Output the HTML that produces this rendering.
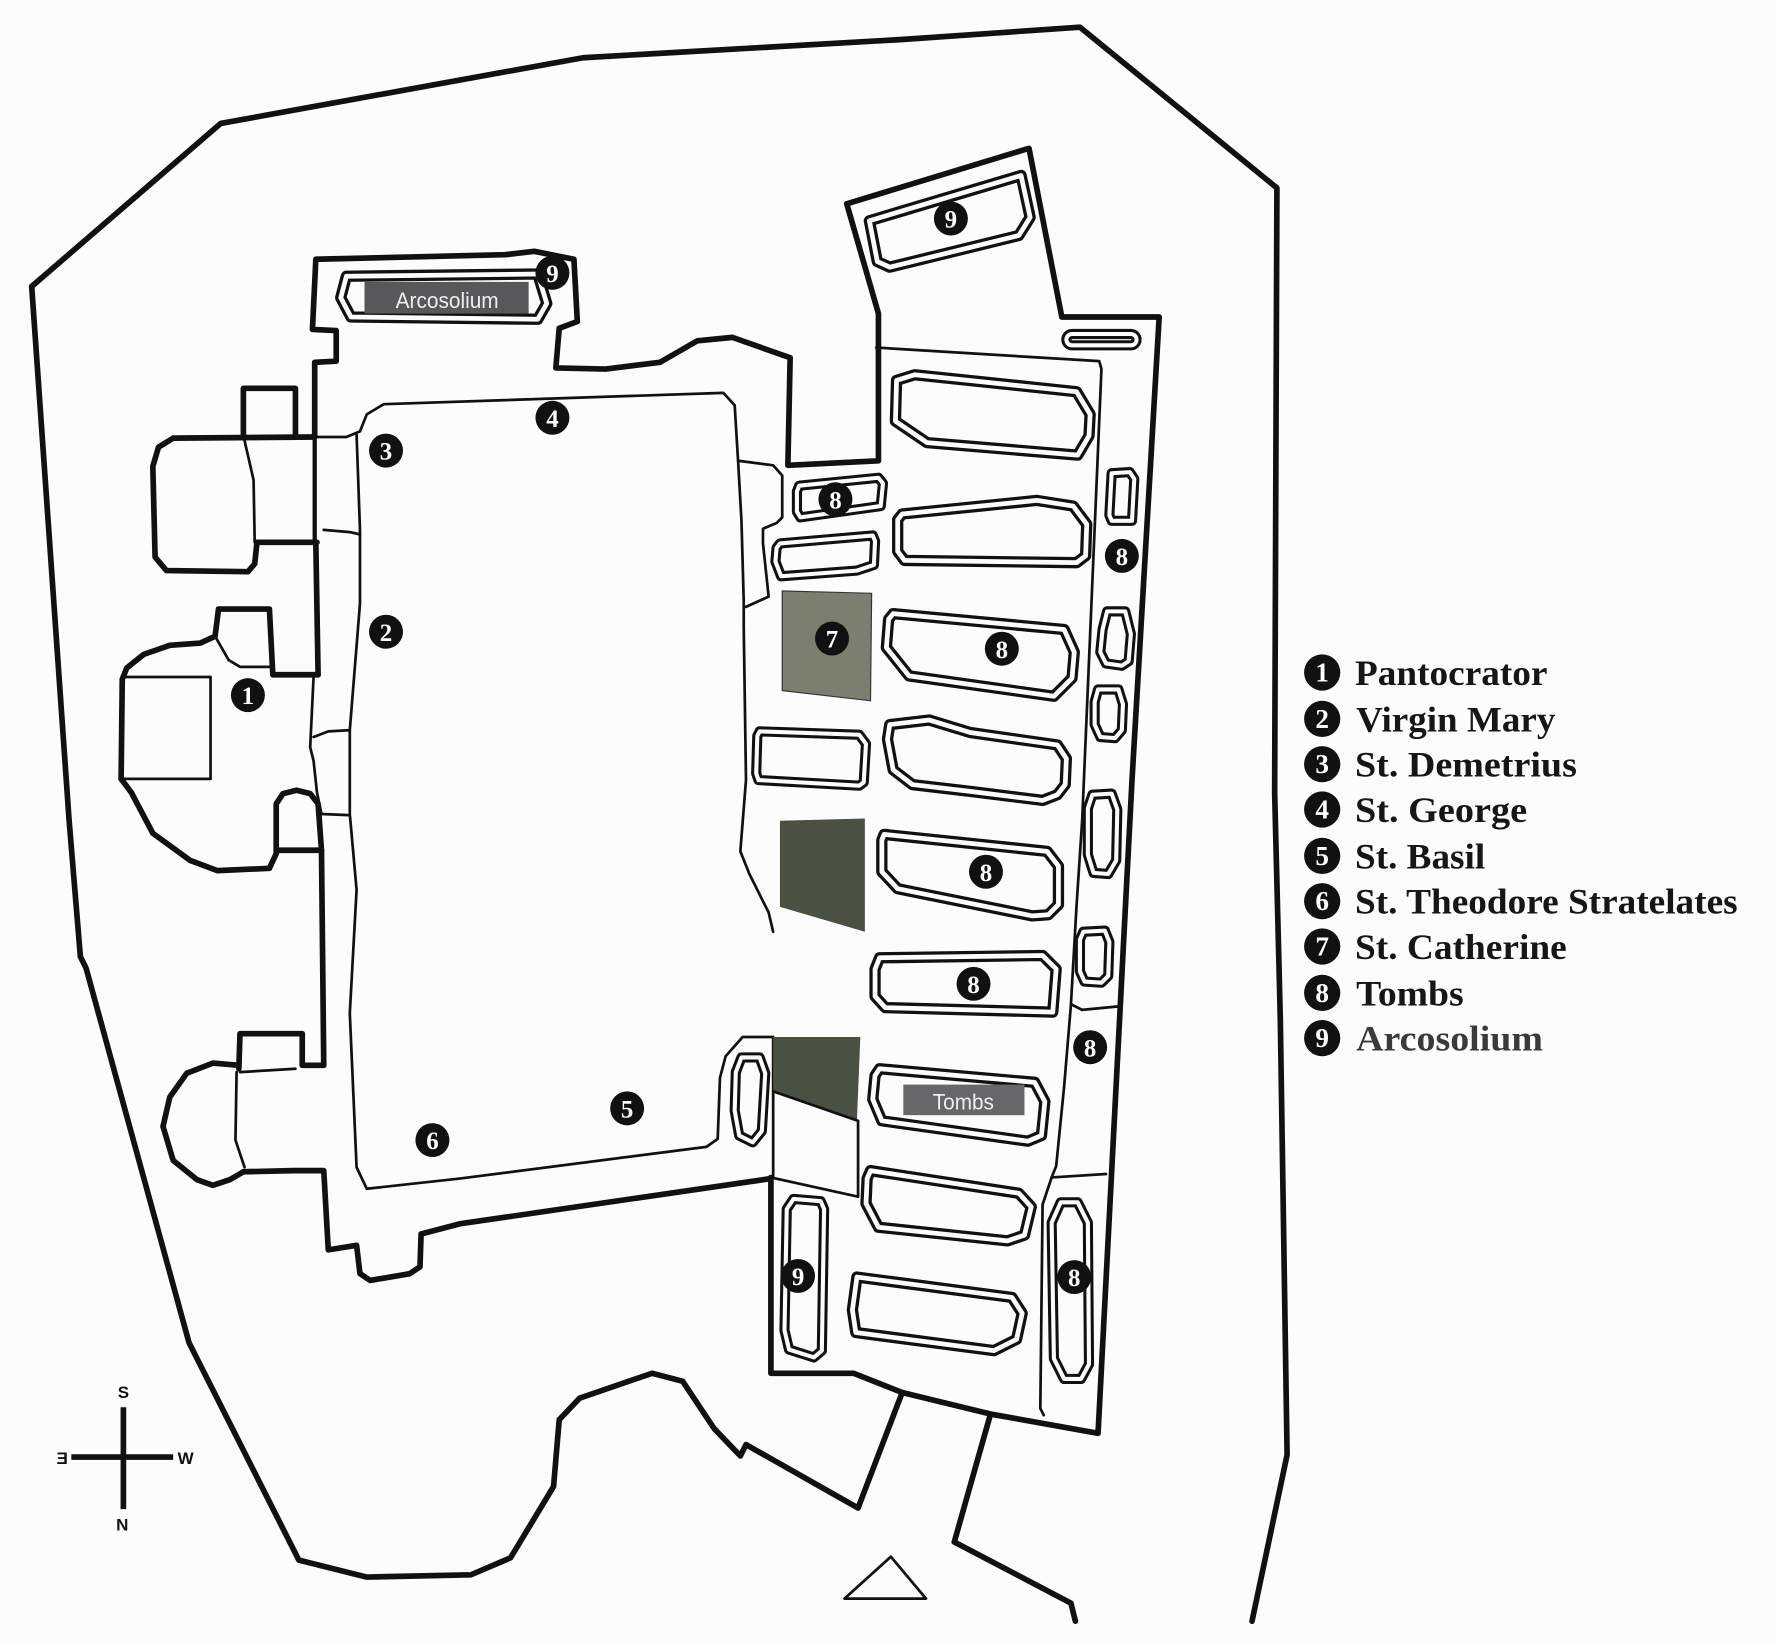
<!DOCTYPE html>
<html><head><meta charset="utf-8"><style>
html,body{margin:0;padding:0;background:#fcfcfc;}
svg{display:block;}
.k{fill:none;stroke:#111;stroke-width:5;stroke-linejoin:round;stroke-linecap:round;}
.m{fill:none;stroke:#111;stroke-width:3.8;stroke-linejoin:round;stroke-linecap:round;}
.t{fill:none;stroke:#111;stroke-width:2.4;stroke-linejoin:round;stroke-linecap:round;}
.tb{fill:#fcfcfc;stroke:#111;stroke-width:10;stroke-linejoin:round;}
.tw{fill:none;stroke:#fcfcfc;stroke-width:4.2;stroke-linejoin:round;}
.sb{fill:#fcfcfc;stroke:#111;stroke-width:9;stroke-linejoin:round;}
.sw{fill:none;stroke:#fcfcfc;stroke-width:3.6;stroke-linejoin:round;}
.n{font-family:"Liberation Serif",serif;font-weight:bold;font-size:22px;fill:#fff;text-anchor:middle;}
.lg{font-family:"Liberation Serif",serif;font-weight:bold;font-size:32px;fill:#161616;}
.ln{font-family:"Liberation Serif",serif;font-weight:bold;font-size:24px;fill:#fff;text-anchor:middle;}
.cp{font-family:"Liberation Sans",sans-serif;font-weight:bold;font-size:15px;fill:#111;text-anchor:middle;}
.lb{font-family:"Liberation Sans",sans-serif;font-size:20px;fill:#eee;text-anchor:middle;}
</style></head><body>
<svg width="1775" height="1645" viewBox="0 0 1568 1453" preserveAspectRatio="none" xmlns="http://www.w3.org/2000/svg">
<rect x="0" y="0" width="1568" height="1453" fill="#fcfcfc"/>

<!-- outer boundary -->
<path class="k" d="M28,253 L195,109 L515,51 L795,35 L954,24 L1128,166 L1126,700 L1131,900 L1137,1285 L1106,1432"/>
<path class="k" d="M28,253 L61,724 L71,845 L76,855 L167,1186 L264,1378 L324,1393 L416,1391 L451,1376 L489,1313 L494,1254 L512,1235 L576,1213 L603,1220 L631,1262 L654,1286 L659,1276 L758,1332 L797,1230"/>
<path class="k" d="M875,1249 L843,1362 L946,1416 L950,1432"/>
<path class="t" d="M746,1412 L787,1375 L818,1412 Z"/>

<!-- tomb hall / north chapels outline -->
<path class="k" d="M748,180 L909,131 L938,280 L1024,280 L1000,689 L970,1266 L875,1249 L797,1230 L754,1213 L681,1213 L681,1040"/>
<path class="k" d="M748,180 L776,277 L776,407 L696,411 L698,316 L647,298 L616,301 L583,320 L535,326 L491,325 L494,290 L510,284 L507,229 L472,222 L446,225 L279,229 L276,291 L297,292 L297,319 L278,320 L278,386"/>
<path class="m" d="M278,386 L278,480"/>
<path class="k" d="M279,480 L281,596"/>

<!-- annex room upper-left -->
<path class="k" d="M278,386 L153,387 L140,395 L135,412 L137,492 L147,504 L219,505 L225,498 L227,479 L280,479"/>
<path class="k" d="M215,386 L215,343 L261,343 L261,385"/>
<path class="t" d="M216,389 L224,424 L225,479"/>

<!-- apse 1 -->
<path class="k" d="M281,596 L241,596 L238,538 L193,538 L190,562 L177,568 L150,570 L127,578 L112,590 L108,600 L107,688 L116,700 L135,736 L168,760 L192,769 L238,767 L244,754 L244,710 L250,701 L262,698 L274,701 L281,710 L284,751"/>
<path class="t" d="M190,562 L202,583 L212,589 L238,589"/>
<path class="t" d="M109,598 L186,598 L186,688 L109,688"/>
<path class="t" d="M277,598 L274,660 L277,672 L280,700 L284,719"/>
<path class="t" d="M277,651 L290,646 L308,645"/>
<path class="t" d="M284,719 L308,720"/>
<path class="k" d="M244,751 L284,751 L286,941 L267,941 L267,913 L212,913 L211,944"/>

<!-- apse 2 and south wall -->
<path class="k" d="M211,941 L188,939 L165,948 L150,969 L144,995 L153,1025 L174,1042 L188,1047 L203,1042 L215,1035 L259,1034 L286,1034 L290,1104 L315,1100 L318,1125 L327,1131 L362,1125 L371,1119 L372,1090 L406,1081 L681,1041"/>
<path class="t" d="M209,947 L208,1007 L216,1031"/>
<path class="t" d="M212,947 L261,944"/>

<!-- nave inner walls -->
<path class="t" d="M278,386 L306,386 L318,381 L324,366 L339,357 L639,347 L649,358 L652,407 L655,460 L657,531 L657,554 L659,689 L654,752 L662,772 L679,806 L683,823"/>
<path class="t" d="M315,384 L318,468 L318,533 L309,645 L309,719 L315,786 L309,895 L315,1031 L324,1050 L406,1041 L624,1013 L634,1006 L636,952 L641,933 L656,916 L683,916 L683,1040"/>
<path class="t" d="M286,468 L309,470 L318,472"/>
<path class="t" d="M652,407 L683,411 L691,420 L691,457 L686,462 L674,467 L674,480 L679,527 L659,536"/>

<!-- tomb hall inner lines -->
<path class="t" d="M774,307 L971,319 L973,326 L956,724 L951,800 L946,888 L940,960 L933,1030 L929,1040 L921,1064 L919,1244 L922,1250"/>
<path class="t" d="M946,887 L956,892 L987,889"/>
<path class="t" d="M929,1040 L977,1037"/>

<!-- shaded areas -->
<path d="M691,522 L770,524 L769,619 L691,610 Z" fill="#7c7e6f" stroke="#333" stroke-width="1"/>
<path d="M689,725 L764,723 L764,823 L689,801 Z" fill="#4b5142"/>
<path d="M683,916 L760,916 L757,990 L683,964 Z" fill="#4b5142"/>
<path class="t" d="M683,964 L758,990 L758,1057 L681,1040"/>

<!-- tombs (double outlines) -->
<path class="tb" d="M768,195 L902,155 L910,192 L900,208 L786,236 L775,231 Z"/><path class="tw" d="M768,195 L902,155 L910,192 L900,208 L786,236 L775,231 Z"/>
<rect class="sb" x="942" y="295" width="62" height="10" rx="5"/><rect class="sw" x="942" y="295" width="62" height="10" rx="5"/>
<path class="tb" d="M306,244 L475,242 L483,268 L475,282 L310,280 L301,263 Z"/><path class="tw" d="M306,244 L475,242 L483,268 L475,282 L310,280 L301,263 Z"/>

<path class="tb" d="M792,336 L808,331 L951,346 L963,366 L962,385 L952,402 L819,391 L791,372 Z"/><path class="tw" d="M792,336 L808,331 L951,346 L963,366 L962,385 L952,402 L819,391 L791,372 Z"/>
<path class="tb" d="M797,454 L916,442 L948,447 L960,463 L959,491 L951,497 L799,495 L793,487 L793,459 Z"/><path class="tw" d="M797,454 L916,442 L948,447 L960,463 L959,491 L951,497 L799,495 L793,487 L793,459 Z"/>
<path class="tb" d="M789,542 L940,556 L949,576 L947,599 L931,615 L803,597 L783,572 L785,547 Z"/><path class="tw" d="M789,542 L940,556 L949,576 L947,599 L931,615 L803,597 L783,572 L785,547 Z"/>
<path class="tb" d="M786,640 L821,636 L857,647 L934,658 L942,670 L941,693 L934,702 L921,707 L857,699 L806,693 L789,680 L784,653 Z"/><path class="tw" d="M786,640 L821,636 L857,647 L934,658 L942,670 L941,693 L934,702 L921,707 L857,699 L806,693 L789,680 L784,653 Z"/>
<path class="tb" d="M781,737 L925,752 L935,765 L935,799 L926,808 L912,809 L793,785 L779,770 L779,742 Z"/><path class="tw" d="M781,737 L925,752 L935,765 L935,799 L926,808 L912,809 L793,785 L779,770 L779,742 Z"/>
<path class="tb" d="M777,846 L921,844 L933,856 L930,894 L782,890 L773,880 L773,856 Z"/><path class="tw" d="M777,846 L921,844 L933,856 L930,894 L782,890 L773,880 L773,856 Z"/>
<path class="tb" d="M777,944 L914,956 L923,973 L920,1003 L908,1008 L779,990 L771,971 L773,950 Z"/><path class="tw" d="M777,944 L914,956 L923,973 L920,1003 L908,1008 L779,990 L771,971 L773,950 Z"/>
<path class="tb" d="M769,1034 L900,1054 L911,1066 L905,1091 L890,1096 L776,1084 L765,1063 L766,1041 Z"/><path class="tw" d="M769,1034 L900,1054 L911,1066 L905,1091 L890,1096 L776,1084 L765,1063 L766,1041 Z"/>
<path class="tb" d="M757,1128 L894,1146 L903,1160 L898,1183 L878,1193 L756,1177 L753,1157 Z"/><path class="tw" d="M757,1128 L894,1146 L903,1160 L898,1183 L878,1193 L756,1177 L753,1157 Z"/>

<path class="sb" d="M982,418 L998,417 L1002,423 L1000,460 L982,460 L980,455 Z"/><path class="sw" d="M982,418 L998,417 L1002,423 L1000,460 L982,460 L980,455 Z"/>
<path class="sb" d="M978,540 L994,540 L999,560 L997,584 L991,588 L977,586 L972,576 L974,556 Z"/><path class="sw" d="M978,540 L994,540 L999,560 L997,584 L991,588 L977,586 L972,576 L974,556 Z"/>
<path class="sb" d="M970,609 L988,609 L992,622 L991,645 L985,652 L972,651 L967,640 L967,620 Z"/><path class="sw" d="M970,609 L988,609 L992,622 L991,645 L985,652 L972,651 L967,640 L967,620 Z"/>
<path class="sb" d="M965,702 L982,701 L987,715 L986,760 L979,772 L966,771 L961,755 L961,714 Z"/><path class="sw" d="M965,702 L982,701 L987,715 L986,760 L979,772 L966,771 L961,755 L961,714 Z"/>
<path class="sb" d="M957,823 L976,822 L980,832 L979,862 L973,868 L958,867 L954,858 L954,830 Z"/><path class="sw" d="M957,823 L976,822 L980,832 L979,862 L973,868 L958,867 L954,858 L954,830 Z"/>
<path class="sb" d="M937,1062 L952,1062 L961,1080 L962,1205 L955,1218 L940,1218 L931,1200 L929,1080 Z"/><path class="sw" d="M937,1062 L952,1062 L961,1080 L962,1205 L955,1218 L940,1218 L931,1200 L929,1080 Z"/>

<path class="sb" d="M706,429 L776,422 L780,427 L778,447 L707,457 L704,452 L704,434 Z"/><path class="sw" d="M706,429 L776,422 L780,427 L778,447 L707,457 L704,452 L704,434 Z"/>
<path class="sb" d="M689,480 L771,473 L773,478 L772,499 L757,504 L690,509 L685,496 L686,484 Z"/><path class="sw" d="M689,480 L771,473 L773,478 L772,499 L757,504 L690,509 L685,496 L686,484 Z"/>
<path class="sb" d="M671,646 L759,649 L765,657 L763,691 L759,694 L670,689 L668,683 L669,650 Z"/><path class="sw" d="M671,646 L759,649 L765,657 L763,691 L759,694 L670,689 L668,683 L669,650 Z"/>
<path class="sb" d="M655,934 L671,934 L676,948 L673,999 L665,1009 L653,1003 L649,981 L650,947 Z"/><path class="sw" d="M655,934 L671,934 L676,948 L673,999 L665,1009 L653,1003 L649,981 L650,947 Z"/>
<path class="sb" d="M701,1059 L725,1061 L728,1068 L726,1193 L719,1199 L697,1192 L693,1175 L695,1068 Z"/><path class="sw" d="M701,1059 L725,1061 L728,1068 L726,1193 L719,1199 L697,1192 L693,1175 L695,1068 Z"/>

<!-- label boxes -->
<rect x="322" y="249" width="145" height="28" fill="#58585a"/>
<text class="lb" x="395" y="272" textLength="91" lengthAdjust="spacingAndGlyphs">Arcosolium</text>
<rect x="798" y="958" width="107" height="27" fill="#67676a"/>
<text class="lb" x="851" y="980" textLength="54" lengthAdjust="spacingAndGlyphs">Tombs</text>

<!-- numbered markers -->
<g>
<circle cx="219" cy="614" r="15" fill="#111"/><text class="n" x="219" y="622">1</text>
<circle cx="341" cy="558" r="15" fill="#111"/><text class="n" x="341" y="566">2</text>
<circle cx="341" cy="398" r="15" fill="#111"/><text class="n" x="341" y="406">3</text>
<circle cx="488" cy="369" r="15" fill="#111"/><text class="n" x="488" y="377">4</text>
<circle cx="554" cy="979" r="15" fill="#111"/><text class="n" x="554" y="987">5</text>
<circle cx="382" cy="1007" r="15" fill="#111"/><text class="n" x="382" y="1015">6</text>
<circle cx="735" cy="564" r="15" fill="#111"/><text class="n" x="735" y="572">7</text>
<circle cx="738" cy="441" r="15" fill="#111"/><text class="n" x="738" y="449">8</text>
<circle cx="991" cy="491" r="15" fill="#111"/><text class="n" x="991" y="499">8</text>
<circle cx="885" cy="573" r="15" fill="#111"/><text class="n" x="885" y="581">8</text>
<circle cx="871" cy="770" r="15" fill="#111"/><text class="n" x="871" y="778">8</text>
<circle cx="860" cy="869" r="15" fill="#111"/><text class="n" x="860" y="877">8</text>
<circle cx="963" cy="925" r="15" fill="#111"/><text class="n" x="963" y="933">8</text>
<circle cx="949" cy="1128" r="15" fill="#111"/><text class="n" x="949" y="1136">8</text>
<circle cx="488" cy="241" r="15" fill="#111"/><text class="n" x="488" y="249">9</text>
<circle cx="840" cy="193" r="15" fill="#111"/><text class="n" x="840" y="201">9</text>
<circle cx="705" cy="1127" r="15" fill="#111"/><text class="n" x="705" y="1135">9</text>
</g>

<!-- compass -->
<line x1="109" y1="1243" x2="109" y2="1333" stroke="#111" stroke-width="5"/>
<line x1="63" y1="1287" x2="153" y2="1287" stroke="#111" stroke-width="5"/>
<text class="cp" x="109" y="1235">S</text>
<text class="cp" x="108" y="1352">N</text>
<text class="cp" x="164" y="1293">W</text>
<text class="cp" transform="translate(55,1293) scale(-1,1)" x="0" y="0">E</text>

<!-- legend -->
<g>
<circle cx="1168" cy="594" r="16" fill="#111"/><text class="ln" x="1168" y="602">1</text>
<text class="lg" x="1197" y="605" textLength="170" lengthAdjust="spacingAndGlyphs">Pantocrator</text>
<circle cx="1168" cy="635" r="16" fill="#111"/><text class="ln" x="1168" y="643">2</text>
<text class="lg" x="1198" y="646" textLength="176" lengthAdjust="spacingAndGlyphs">Virgin Mary</text>
<circle cx="1168" cy="675" r="16" fill="#111"/><text class="ln" x="1168" y="683">3</text>
<text class="lg" x="1197" y="686" textLength="196" lengthAdjust="spacingAndGlyphs">St. Demetrius</text>
<circle cx="1168" cy="715" r="16" fill="#111"/><text class="ln" x="1168" y="723">4</text>
<text class="lg" x="1197" y="726" textLength="152" lengthAdjust="spacingAndGlyphs">St. George</text>
<circle cx="1168" cy="756" r="16" fill="#111"/><text class="ln" x="1168" y="764">5</text>
<text class="lg" x="1197" y="767" textLength="115" lengthAdjust="spacingAndGlyphs">St. Basil</text>
<circle cx="1168" cy="796" r="16" fill="#111"/><text class="ln" x="1168" y="804">6</text>
<text class="lg" x="1197" y="807" textLength="338" lengthAdjust="spacingAndGlyphs">St. Theodore Stratelates</text>
<circle cx="1168" cy="836" r="16" fill="#111"/><text class="ln" x="1168" y="844">7</text>
<text class="lg" x="1197" y="847" textLength="187" lengthAdjust="spacingAndGlyphs">St. Catherine</text>
<circle cx="1168" cy="877" r="16" fill="#111"/><text class="ln" x="1168" y="885">8</text>
<text class="lg" x="1198" y="888" textLength="95" lengthAdjust="spacingAndGlyphs">Tombs</text>
<circle cx="1168" cy="917" r="16" fill="#111"/><text class="ln" x="1168" y="925">9</text>
<text class="lg" x="1198" y="928" textLength="165" lengthAdjust="spacingAndGlyphs" style="fill:#3a3a3a">Arcosolium</text>
</g>
</svg>
</body></html>
